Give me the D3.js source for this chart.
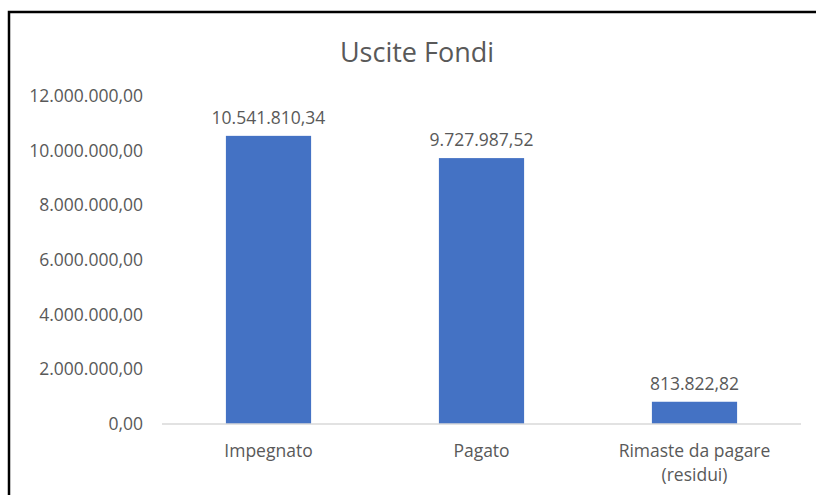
<!DOCTYPE html>
<html>
<head>
<meta charset="utf-8">
<script src="https://cdn.jsdelivr.net/npm/d3@7"></script>
<style>
  body { margin: 0; background: #fff; }
  text { font-family: "Open Sans", "Lato", sans-serif; fill: #595959; }
</style>
</head>
<body>
<div id="chart"></div>
<script>
// chart data
var categories = ["Impegnato", "Pagato", "Rimaste da pagare (residui)"];
var values = [10541810.34, 9727987.52, 813822.82];
var yTicks = [0, 2000000, 4000000, 6000000, 8000000, 10000000, 12000000];
var title = "Uscite Fondi";

var width = 816, height = 495;
var margin = { top: 96, right: 15, bottom: 71, left: 162 };

var svg = d3.select("#chart").append("svg")
    .attr("width", width)
    .attr("height", height);

// outer frame (goes past the right/bottom edges like in the screenshot)
svg.append("rect")
    .attr("x", 9).attr("y", 12)
    .attr("width", width + 20).attr("height", height + 20)
    .attr("fill", "none")
    .attr("stroke", "#000")
    .attr("stroke-width", 2.5);

var fmt = d3.formatLocale({ decimal: ",", thousands: ".", grouping: [3], currency: ["", "€"] }).format(",.2f");

var x = d3.scaleBand()
    .domain(categories)
    .range([margin.left, width - margin.right])
    .paddingInner(0.6)
    .paddingOuter(0.3);

var y = d3.scaleLinear()
    .domain([0, 12000000])
    .range([height - margin.bottom, margin.top]);

svg.append("text")
    .attr("x", 417).attr("y", 62)
    .attr("text-anchor", "middle")
    .style("font-size", "27px")
    .text(title);

// y axis labels
var yAxis = svg.append("g")
    .attr("transform", "translate(" + 143 + ",0)")
    .call(d3.axisLeft(y).tickValues(yTicks).tickFormat(fmt).tickSize(0).tickPadding(0));
yAxis.select(".domain").remove();
yAxis.selectAll("text")
    .style("font-size", "17.5px")
    .attr("fill", "#595959");

// bars
svg.selectAll(".bar")
    .data(values)
    .enter()
    .append("rect")
    .attr("class", "bar")
    .attr("x", function(d, i) { return x(categories[i]); })
    .attr("y", function(d) { return y(d); })
    .attr("width", x.bandwidth())
    .attr("height", function(d) { return y(0) - y(d); })
    .attr("fill", "#4472C4");

// baseline
svg.append("line")
    .attr("x1", margin.left).attr("x2", width - margin.right)
    .attr("y1", y(0)).attr("y2", y(0))
    .attr("stroke", "#d9d9d9")
    .attr("stroke-width", 1.5);

// value labels
svg.selectAll(".val")
    .data(values)
    .enter()
    .append("text")
    .attr("class", "val")
    .attr("x", function(d, i) { return x(categories[i]) + x.bandwidth() / 2; })
    .attr("y", function(d) { return y(d) - 12; })
    .attr("text-anchor", "middle")
    .style("font-size", "17.5px")
    .text(function(d) { return fmt(d); });

// category labels, wrapped like excel does
var catLines = [["Impegnato"], ["Pagato"], ["Rimaste da pagare", "(residui)"]];
svg.selectAll(".cat")
    .data(categories)
    .enter()
    .append("text")
    .attr("class", "cat")
    .attr("x", function(d) { return x(d) + x.bandwidth() / 2; })
    .attr("y", 457)
    .attr("text-anchor", "middle")
    .style("font-size", "17.5px")
    .each(function(d, i) {
      var t = d3.select(this);
      catLines[i].forEach(function(line, j) {
        t.append("tspan")
          .attr("x", x(d) + x.bandwidth() / 2)
          .attr("dy", j === 0 ? 0 : 24)
          .text(line);
      });
    });
</script>
</body>
</html>
